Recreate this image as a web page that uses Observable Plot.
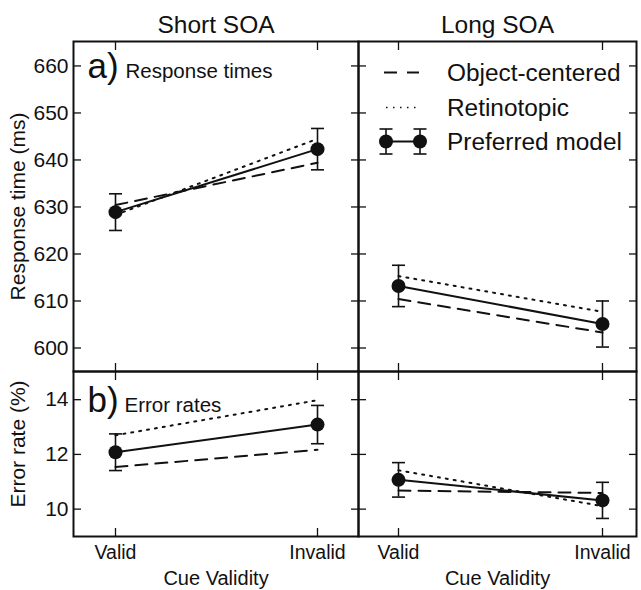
<!DOCTYPE html>
<html>
<head>
<meta charset="utf-8">
<script src="https://cdn.jsdelivr.net/npm/d3@7"></script>
<script src="https://cdn.jsdelivr.net/npm/@observablehq/plot@0.6"></script>
<style>
html, body { margin: 0; padding: 0; background: #fff; }
#chart { position: relative; width: 641px; height: 590px; overflow: hidden; }
#chart svg { position: absolute; left: 0; top: 0; }
</style>
</head>
<body>
<div id="chart"></div>
<script>
// ---------- data ----------
const cues = ["Valid", "Invalid"];
const soas = ["Short SOA", "Long SOA"];
const models = ["Object-centered", "Retinotopic", "Preferred model"];
const rtTicks = [600, 610, 620, 630, 640, 650, 660];
const erTicks = [10, 12, 14];

// Response times (ms): [Valid, Invalid]
const rtPreferredShort = [628.9, 642.3];
const rtPreferredShortErr = [3.9, 4.4];
const rtPreferredLong = [613.2, 605.1];
const rtPreferredLongErr = [4.4, 4.9];
const rtObjectShort = [630.4, 639.4];
const rtObjectLong = [610.4, 603.3];
const rtRetinoShort = [628.3, 644.5];
const rtRetinoLong = [615.3, 607.7];

// Error rates (%): [Valid, Invalid]
const erPreferredShort = [12.08, 13.09];
const erPreferredShortErr = [0.67, 0.70];
const erPreferredLong = [11.07, 10.32];
const erPreferredLongErr = [0.63, 0.66];
const erObjectShort = [11.54, 12.17];
const erObjectLong = [10.68, 10.59];
const erRetinoShort = [12.70, 13.98];
const erRetinoLong = [11.42, 10.11];

// ---------- helpers ----------
const FONT = '"Liberation Sans", Arial, Helvetica, sans-serif';
const W = 641, H = 590;
const rows = (values, errs) => cues.map((cue, i) => ({cue, value: values[i], err: errs ? errs[i] : 0}));
const capSymbol = {
  draw(ctx, size) {
    const r = Math.sqrt(size / Math.PI);
    ctx.moveTo(-r, 0);
    ctx.lineTo(r, 0);
  }
};
const blank = () => "";
const ident = d => d;

function panel(cfg) {
  const pref = rows(cfg.pref, cfg.prefErr);
  const marks = [
    Plot.frame({stroke: "#111", strokeWidth: 2}),
    Plot.axisY(cfg.ticks, {anchor: "left", tickSize: -8, tickFormat: blank, strokeWidth: 1.3, label: null}),
    Plot.axisY(cfg.ticks, {anchor: "right", tickSize: -8, tickFormat: blank, strokeWidth: 1.3, label: null}),
    Plot.axisX(cues, {anchor: "top", tickSize: -8, tickFormat: blank, strokeWidth: 1.3, label: null}),
    Plot.axisX(cues, {anchor: "bottom", tickSize: -8, tickFormat: blank, strokeWidth: 1.3, label: null}),
    Plot.line(rows(cfg.obj), {x: "cue", y: "value", stroke: "#111", strokeWidth: 2, strokeDasharray: "12,8"}),
    Plot.line(rows(cfg.ret), {x: "cue", y: "value", stroke: "#111", strokeWidth: 2, strokeDasharray: "2,6"}),
    Plot.line(pref, {x: "cue", y: "value", stroke: "#111", strokeWidth: 2}),
    Plot.ruleX(pref, {x: "cue", y1: d => d.value - d.err, y2: d => d.value + d.err, stroke: "#111", strokeWidth: 1.6}),
    Plot.dot(pref, {x: "cue", y: d => d.value - d.err, symbol: capSymbol, r: 6.5, stroke: "#111", strokeWidth: 1.6, fill: "none"}),
    Plot.dot(pref, {x: "cue", y: d => d.value + d.err, symbol: capSymbol, r: 6.5, stroke: "#111", strokeWidth: 1.6, fill: "none"}),
    Plot.dot(pref, {x: "cue", y: "value", r: 7, fill: "#111", stroke: "none"})
  ];
  if (cfg.yLabels) {
    marks.push(Plot.text(cfg.ticks, {y: ident, text: d => String(d), frameAnchor: "left", textAnchor: "end", lineAnchor: "middle", dx: -5, fontSize: 21, fill: "#111"}));
    marks.push(Plot.text([cfg.yTitle], {text: ident, frameAnchor: "left", textAnchor: "middle", lineAnchor: "middle", dx: -55, dy: cfg.yTitleDy || 0, rotate: -90, fontSize: 21, fill: "#111"}));
  }
  if (cfg.xLabels) {
    marks.push(Plot.text(cues, {x: ident, text: ident, frameAnchor: "bottom", textAnchor: "middle", lineAnchor: "top", dy: 9, fontSize: 19.5, fill: "#111"}));
    marks.push(Plot.text(["Cue Validity"], {text: ident, frameAnchor: "bottom", textAnchor: "middle", lineAnchor: "middle", dy: 42, fontSize: 20, fill: "#111"}));
  }
  if (cfg.title) {
    marks.push(Plot.text([cfg.title], {text: ident, frameAnchor: "top", textAnchor: "middle", lineAnchor: "middle", dy: -16, fontSize: 24.5, fill: "#111"}));
  }
  if (cfg.tag) {
    marks.push(Plot.text([cfg.tag], {text: ident, frameAnchor: "top-left", textAnchor: "start", lineAnchor: "bottom", dx: 14, dy: cfg.tagDy, fontSize: 35, fill: "#111"}));
    marks.push(Plot.text([cfg.tagText], {text: ident, frameAnchor: "top-left", textAnchor: "start", lineAnchor: "bottom", dx: cfg.tagTextDx, dy: cfg.tagDy, fontSize: 20.5, fill: "#111"}));
  }
  return Plot.plot({
    width: W, height: H,
    marginLeft: cfg.box[0], marginRight: W - cfg.box[1],
    marginTop: cfg.box[2], marginBottom: H - cfg.box[3],
    style: {background: "none", overflow: "visible", fontFamily: FONT, fontSize: "20px", color: "#111"},
    x: {type: "point", domain: cues, padding: 0, insetLeft: cfg.inset[0], insetRight: cfg.inset[1], axis: null},
    y: {domain: cfg.yDomain, axis: null},
    marks
  });
}

const chart = document.getElementById("chart");
const rtDomain = [595, 665.2];
const erDomain = [9, 15.03];

chart.append(panel({
  box: [73, 358, 41, 371], inset: [42, 41], yDomain: rtDomain, ticks: rtTicks,
  pref: rtPreferredShort, prefErr: rtPreferredShortErr, obj: rtObjectShort, ret: rtRetinoShort,
  yLabels: true, yTitle: "Response time (ms)", title: soas[0],
  tag: "a)", tagText: "Response times", tagTextDx: 52, tagDy: 36
}));
chart.append(panel({
  box: [358, 636, 41, 371], inset: [40, 34], yDomain: rtDomain, ticks: rtTicks,
  pref: rtPreferredLong, prefErr: rtPreferredLongErr, obj: rtObjectLong, ret: rtRetinoLong,
  title: soas[1]
}));
chart.append(panel({
  box: [73, 358, 371, 536], inset: [42, 41], yDomain: erDomain, ticks: erTicks,
  pref: erPreferredShort, prefErr: erPreferredShortErr, obj: erObjectShort, ret: erRetinoShort,
  yLabels: true, yTitle: "Error rate (%)", yTitleDy: -10, xLabels: true,
  tag: "b)", tagText: "Error rates", tagTextDx: 51, tagDy: 40
}));
chart.append(panel({
  box: [358, 636, 371, 536], inset: [40, 34], yDomain: erDomain, ticks: erTicks,
  pref: erPreferredLong, prefErr: erPreferredLongErr, obj: erObjectLong, ret: erRetinoLong,
  xLabels: true
}));

// ---------- legend (inside the Long SOA response-time panel) ----------
const leg = d3.select(chart).append("svg")
  .attr("width", W).attr("height", H)
  .style("overflow", "visible")
  .attr("font-family", FONT);
const ink = "#111";
const rowsY = [72.5, 107.5, 141.5];
const sx0 = 386, sx1 = 420, tx = 447;
// Object-centered
leg.append("line").attr("x1", sx0 - 2).attr("x2", sx1 - 1).attr("y1", rowsY[0]).attr("y2", rowsY[0])
  .attr("stroke", ink).attr("stroke-width", 2).attr("stroke-dasharray", "13,10");
// Retinotopic
leg.append("line").attr("x1", sx0).attr("x2", sx1 - 2).attr("y1", rowsY[1]).attr("y2", rowsY[1])
  .attr("stroke", ink).attr("stroke-width", 1.6).attr("stroke-dasharray", "1.5,5.5");
// Preferred model
leg.append("line").attr("x1", sx0).attr("x2", sx1).attr("y1", rowsY[2]).attr("y2", rowsY[2])
  .attr("stroke", ink).attr("stroke-width", 2);
for (const cx of [sx0, sx1]) {
  leg.append("line").attr("x1", cx).attr("x2", cx).attr("y1", rowsY[2] - 12.5).attr("y2", rowsY[2] + 12.5)
    .attr("stroke", ink).attr("stroke-width", 1.6);
  for (const dy of [-12.5, 12.5]) {
    leg.append("line").attr("x1", cx - 6.5).attr("x2", cx + 6.5).attr("y1", rowsY[2] + dy).attr("y2", rowsY[2] + dy)
      .attr("stroke", ink).attr("stroke-width", 1.6);
  }
  leg.append("circle").attr("cx", cx).attr("cy", rowsY[2]).attr("r", 7).attr("fill", ink);
}
models.forEach((m, i) => {
  leg.append("text").attr("x", tx).attr("y", rowsY[i]).attr("dy", "0.35em")
    .attr("font-size", 24.4).attr("fill", ink).text(m);
});
</script>
</body>
</html>
